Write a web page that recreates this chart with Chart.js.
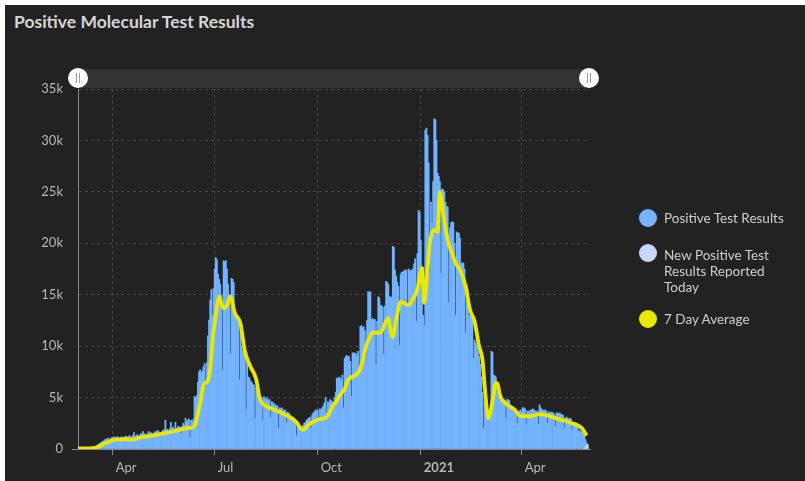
<!DOCTYPE html>
<html>
<head>
<meta charset="utf-8">
<script src="https://cdn.jsdelivr.net/npm/chart.js@4.4.0/dist/chart.umd.min.js"></script>
<style>
  html, body { margin: 0; padding: 0; background: #fff; }
  #card { position: absolute; left: 5px; top: 5px; width: 800px; height: 476px; background: #222; }
  #title { position: absolute; left: 14px; top: 11px; font: bold 17.5px Lato, sans-serif; color: #d6d6d6; }
  #chart { position: absolute; left: 0; top: 0; }
  .item { position: absolute; left: 664px; font: 13.5px Lato, sans-serif; color: #cfcfcf; line-height: 16px; }
  .dot { position: absolute; left: 639px; width: 18px; height: 18px; border-radius: 50%; }
</style>
</head>
<body>
<div id="card"></div>
<div id="title">Positive Molecular Test Results</div>
<canvas id="chart" width="805" height="481"></canvas>

<div class="dot" style="top:209px;background:#74b3ff"></div>
<div class="item" style="top:210px">Positive Test Results</div>
<div class="dot" style="top:244px;background:#c8d8ff"></div>
<div class="item" style="top:247px">New Positive Test<br>Results Reported<br>Today</div>
<div class="dot" style="top:310px;background:#e8e800"></div>
<div class="item" style="top:311px">7 Day Average</div>

<script>
// day 0 = 1 Mar 2020, values in thousands
const positiveValues = [
  0.02,0.03,0.03,0.05,0.05,0.06,0.08,0.1,0.1,0.12,
  0.15,0.15,0.18,0.2,0.22,0.25,0.3,0.35,0.45,0.5,
  0.6,0.65,0.75,0.8,0.9,0.95,1.0,1.05,0.9,1.0,
  1.1,1.1,1.2,0.8,1.1,1.2,1.15,1.0,1.1,1.2,
  0.75,1.1,1.2,1.25,1.1,1.2,1.3,0.8,1.2,1.3,
  1.6,1.2,1.3,1.4,0.9,1.3,1.5,1.4,1.7,1.5,
  1.4,1.0,1.5,1.7,1.5,1.6,1.5,1.1,1.6,1.7,
  1.6,1.8,1.7,1.6,1.2,1.7,1.8,1.9,2.8,1.9,
  1.9,1.4,2.0,2.6,2.0,2.1,1.5,2.6,2.0,2.1,
  2.2,2.1,1.5,2.2,2.5,2.3,3.0,2.6,2.8,2.9,
  1.1,2.8,2.7,2.9,5.1,5.0,5.2,6.5,7.5,7.7,
  7.4,7.6,8.0,8.3,6.0,8.4,11.0,12.5,14.5,15.5,
  13.0,15.6,17.5,18.6,18.4,17.0,16.5,16.0,15.0,7.7,
  18.3,18.2,18.3,17.5,16.0,15.0,9.2,16.6,16.5,16.2,
  13.0,12.8,12.6,12.4,6.7,12.0,10.0,9.5,9.3,9.0,
  3.8,8.5,7.0,6.9,6.6,6.5,6.3,6.2,3.0,6.0,
  5.5,5.3,5.2,5.1,5.0,2.8,5.1,4.9,4.8,5.0,
  4.7,4.8,3.0,4.6,4.5,4.4,4.3,4.2,4.2,2.0,
  4.0,3.9,4.0,3.8,3.7,3.8,2.6,3.6,3.5,3.4,
  3.2,3.1,3.1,3.0,2.8,1.3,2.6,2.3,2.2,2.1,
  2.2,2.3,2.5,2.6,2.8,2.9,3.0,3.1,2.0,3.3,
  3.5,3.6,3.8,3.7,3.8,2.65,3.9,3.8,4.0,4.2,
  4.5,5.0,3.5,4.6,4.5,4.8,4.7,4.6,4.5,5.0,
  5.5,6.9,6.8,7.0,6.9,6.7,7.2,4.0,8.8,9.0,
  9.1,8.9,9.0,8.5,5.1,9.3,9.4,9.2,9.3,9.0,
  9.5,8.0,11.9,12.0,11.8,11.9,11.5,9.0,12.5,15.3,
  15.2,15.3,12.6,12.7,12.5,12.6,8.2,12.4,14.8,14.7,
  14.0,13.9,13.8,9.2,13.9,16.3,16.2,16.0,14.8,14.8,
  14.7,19.7,19.6,17.4,16.8,16.2,15.8,10.1,17.0,17.2,
  17.2,17.3,17.4,17.4,14.0,17.5,17.4,17.3,17.4,17.5,
  18.0,18.5,12.4,19.0,23.2,23.0,20.3,15.0,13.0,12.0,
  31.0,31.2,30.5,27.8,17.1,24.0,22.0,26.0,32.1,32.0,
  30.0,26.8,26.5,26.0,17.1,25.3,25.2,25.0,24.0,23.6,
  23.5,14.2,21.5,22.0,22.1,22.0,20.0,13.0,21.1,21.0,
  21.0,20.5,18.1,18.0,18.1,17.5,11.3,16.0,15.5,13.0,
  12.9,12.8,12.5,8.8,10.6,10.3,10.0,9.5,9.0,8.2,
  7.0,5.5,2.0,4.8,3.5,3.2,3.0,3.2,3.3,9.5,
  9.4,7.2,7.1,7.0,6.5,5.5,5.4,5.3,5.2,4.8,
  4.8,4.7,3.0,4.8,4.8,4.7,4.2,4.1,4.0,3.9,
  3.8,3.7,2.5,3.6,3.7,3.8,3.6,4.0,4.0,3.9,
  2.4,3.7,3.7,3.6,3.8,3.8,3.9,3.8,3.7,3.6,
  3.7,2.4,4.3,4.0,3.8,3.8,3.7,3.8,3.7,2.5,
  3.6,3.6,3.5,3.6,3.5,3.4,2.2,3.5,3.5,3.4,
  3.5,3.4,3.3,3.3,2.0,3.0,3.1,3.0,2.9,3.0,
  2.9,1.9,2.6,2.5,2.5,2.4,2.3,1.7,1.8,1.7,
  1.6,1.5,1.2,0.7,0.3,0.05
];

const todayDays = [452, 453, 454, 455];
const todayValues = [0.1, 0.2, 0.3, 0.4];

const avgDays = [0,16,20,23,28,31,34,42,49,55,64,72,80,88,94,99,103,105,109,112,115,117,119,120,123,126,129,131,133,136,140,145,149,154,159,162,164,169,176,180,189,195,198,201,205,210,216,222,228,230,234,238,241,250,254,256,261,263,270,274,277,279,281,284,288,291,295,300,303,305,307,309,312,314,319,321,323,326,330,334,337,341,346,350,354,358,361,363,365,366,368,371,372,374,377,381,386,390,395,401,405,412,418,424,429,435,441,446,450,454];
const avgValues = [0.05,0.12,0.3,0.5,0.7,0.85,0.92,0.95,0.92,1.1,1.25,1.4,1.6,1.78,1.95,2.05,2.15,2.5,4.5,6.2,6.5,7.0,9.0,10.5,13.0,14.8,13.8,13.7,14.0,14.8,13.2,12.2,9.5,8.0,6.8,5.0,4.5,4.1,3.8,3.6,3.1,2.6,2.1,1.85,2.3,2.65,2.9,3.1,4.3,4.5,5.3,5.8,6.7,7.4,8.5,9.6,11.0,11.3,11.3,12.2,12.7,11.5,10.9,12.6,14.3,14.2,14.0,14.8,15.5,16.8,17.6,14.2,17.5,20.0,21.3,21.1,25.0,22.9,20.3,19.0,18.1,17.4,15.8,13.5,12.4,10.0,8.7,6.1,3.8,3.0,3.5,5.4,6.2,6.4,5.1,4.5,4.1,3.8,3.2,3.2,3.2,3.4,3.3,3.1,2.9,2.75,2.5,2.3,2.0,1.3];

const tickDays = [31, 122, 214, 306, 396];
const tickLabels = ['Apr', 'Jul', 'Oct', '2021', 'Apr'];

const axisGray = '#8a8a8a';

// range slider drawn above the plot
const sliderPlugin = {
  id: 'slider',
  beforeDraw(chart) {
    const { ctx, chartArea } = chart;
    ctx.save();
    ctx.fillStyle = '#333333';
    ctx.fillRect(chartArea.left, 69, chartArea.right - chartArea.left, 19);
    ctx.restore();
  },
  afterDraw(chart) {
    const { ctx, chartArea } = chart;
    [chartArea.left, chartArea.right - 1].forEach(x => {
      ctx.save();
      ctx.fillStyle = '#ffffff';
      ctx.beginPath();
      ctx.arc(x, 78, 10, 0, Math.PI * 2);
      ctx.fill();
      ctx.strokeStyle = '#9a9a9a';
      ctx.lineWidth = 1;
      ctx.beginPath();
      ctx.moveTo(x - 1.5, 73); ctx.lineTo(x - 1.5, 83);
      ctx.moveTo(x + 1.5, 73); ctx.lineTo(x + 1.5, 83);
      ctx.stroke();
      ctx.restore();
    });
  }
};

new Chart(document.getElementById('chart').getContext('2d'), {
  type: 'bar',
  data: {
    datasets: [
      {
        label: 'New Positive Test Results Reported Today',
        data: todayDays.map((d, i) => ({ x: d, y: todayValues[i] })),
        backgroundColor: '#c8d8ff',
        stack: 'tests',
        barPercentage: 1,
        categoryPercentage: 1,
        order: 1
      },
      {
        label: 'Positive Test Results',
        data: positiveValues.map((v, i) => ({ x: i, y: v })),
        backgroundColor: '#74b3ff',
        stack: 'tests',
        barPercentage: 1,
        categoryPercentage: 1,
        order: 1
      },
      {
        type: 'line',
        label: '7 Day Average',
        data: avgDays.map((d, i) => ({ x: d, y: avgValues[i] })),
        borderColor: '#e8e800',
        borderWidth: 3.8,
        pointRadius: 0,
        cubicInterpolationMode: 'monotone',
        stack: 'avg',
        order: 0
      }
    ]
  },
  options: {
    responsive: false,
    animation: false,
    layout: { padding: { top: 89, right: 215, bottom: 0, left: 0 } },
    plugins: { legend: { display: false }, tooltip: { enabled: false } },
    scales: {
      x: {
        type: 'linear',
        min: 0,
        max: 457,
        offset: false,
        stacked: true,
        afterBuildTicks: axis => { axis.ticks = tickDays.map(v => ({ value: v })); },
        afterFit: scale => { scale.height = 32; },
        grid: { offset: false, color: '#444444', tickColor: axisGray, tickLength: 6 },
        border: { color: axisGray, dash: [3, 3] },
        ticks: {
          autoSkip: false,
          maxRotation: 0,
          align: 'start',
          labelOffset: 3,
          padding: 5,
          color: '#b8b8b8',
          font: ctx => ({ family: 'Lato', size: 13, weight: ctx.tick && ctx.tick.label === '2021' ? 'bold' : 'normal' }),
          callback: (v, i) => tickLabels[i]
        }
      },
      y: {
        min: 0,
        max: 35,
        stacked: true,
        afterFit: scale => { scale.width = 78; },
        grid: {
          color: '#444444',
          tickLength: 6,
          tickColor: ctx => (ctx.tick && ctx.tick.value === 0 ? axisGray : 'rgba(0,0,0,0)')
        },
        border: { color: axisGray, dash: [3, 3] },
        ticks: {
          stepSize: 5,
          padding: 9,
          color: '#b8b8b8',
          font: { family: 'Lato', size: 13 },
          callback: v => (v === 0 ? '0' : v + 'k')
        }
      }
    }
  },
  plugins: [sliderPlugin]
});
</script>
</body>
</html>
